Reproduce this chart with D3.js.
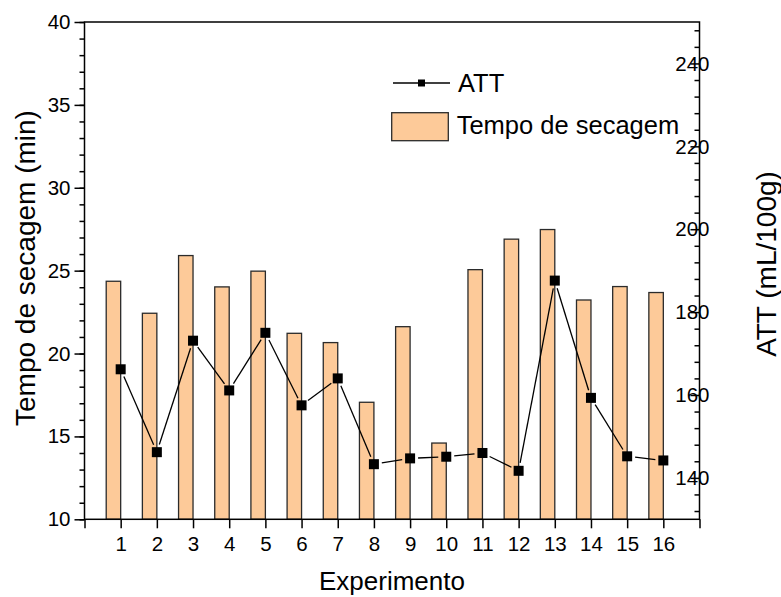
<!DOCTYPE html>
<html>
<head>
<meta charset="utf-8">
<script src="https://cdn.jsdelivr.net/npm/d3@7"></script>
<style>
  html, body { margin: 0; padding: 0; background: #fff; }
  svg { display: block; font-family: "Liberation Sans", Arial, sans-serif; }
</style>
</head>
<body>
<svg id="chart" width="781" height="597"></svg>
<script>
// ---- data ----
const experiments = [1,2,3,4,5,6,7,8,9,10,11,12,13,14,15,16];
const tempoSecagem = [24.36,22.43,25.91,24.02,24.97,21.22,20.66,17.06,21.62,14.6,25.06,26.9,27.48,23.23,24.04,23.68];
const att = [166.2,146.2,173.1,161.1,175.0,157.5,164.0,143.3,144.7,145.1,146.0,141.7,187.6,159.3,145.2,144.2];
const leftTicks = [10,15,20,25,30,35,40];
const rightTicks = [140,160,180,200,220,240];
const xLabel = "Experimento";
const yLeftLabel = "Tempo de secagem (min)";
const yRightLabel = "ATT (mL/100g)";
const legendLine = "ATT";
const legendBar = "Tempo de secagem";

// ---- layout ----
const L = 84.5, R = 699.5, T = 22, B = 519.3;
const barFill = "#FDCA99";
const FONT = "Liberation Sans, Arial, sans-serif";
const svg = d3.select("#chart");

const x = d3.scaleLinear().domain([0,17]).range([L,R]);
const yL = d3.scaleLinear().domain([10,40]).range([B,T]);
const yR = d3.scaleLinear().domain([130,250]).range([B,T]);

const tickFont = 20.5;

// bars
svg.append("g").selectAll("rect").data(experiments).join("rect")
  .attr("x", (d) => x(d - 0.4))
  .attr("y", (d,i) => yL(tempoSecagem[i]))
  .attr("width", (d) => x(d) - x(d - 0.4))
  .attr("height", (d,i) => B - yL(tempoSecagem[i]))
  .attr("fill", barFill)
  .attr("stroke", "#2b2b2b")
  .attr("stroke-width", 1.3);

// line segments with gaps near markers
const pts = experiments.map((d,i) => [x(d), yR(att[i])]);
const gap = 8;
const segs = [];
for (let i = 0; i < pts.length - 1; i++) {
  const [x1,y1] = pts[i], [x2,y2] = pts[i+1];
  const len = Math.hypot(x2-x1, y2-y1);
  const ux = (x2-x1)/len, uy = (y2-y1)/len;
  segs.push([x1+ux*gap, y1+uy*gap, x2-ux*gap, y2-uy*gap]);
}
svg.append("g").selectAll("line").data(segs).join("line")
  .attr("x1", d => d[0]).attr("y1", d => d[1])
  .attr("x2", d => d[2]).attr("y2", d => d[3])
  .attr("stroke", "#000").attr("stroke-width", 1.3);

const ms = 10;
svg.append("g").selectAll("rect").data(pts).join("rect")
  .attr("x", d => d[0] - ms/2).attr("y", d => d[1] - ms/2)
  .attr("width", ms).attr("height", ms).attr("fill", "#000");

// frame
svg.append("rect").attr("x", L).attr("y", T).attr("width", R-L).attr("height", B-T)
  .attr("fill", "none").attr("stroke", "#000").attr("stroke-width", 1.5);

// left axis
const gl = svg.append("g").attr("transform", `translate(${L},0)`);
gl.call(d3.axisLeft(yL).tickValues(d3.range(10,41,1)).tickSize(5).tickFormat(""))
  .call(g => g.select(".domain").remove());
gl.append("g").call(d3.axisLeft(yL).tickValues(leftTicks).tickSize(10).tickPadding(4))
  .call(g => g.select(".domain").remove());
gl.selectAll("line").attr("stroke", "#000").attr("stroke-width", 1.5);
gl.selectAll("g").attr("font-size", null).attr("font-family", null);
gl.attr("font-size", null).attr("font-family", null);
gl.selectAll("text").attr("font-size", tickFont).attr("font-family", FONT).attr("fill", "#000");

// right axis (ticks inward)
const gr = svg.append("g").attr("transform", `translate(${R},0)`);
gr.call(d3.axisLeft(yR).tickValues(d3.range(132,250,4).filter(v => !rightTicks.includes(v))).tickSize(5).tickFormat(""))
  .call(g => g.select(".domain").remove());
gr.append("g").call(d3.axisLeft(yR).tickValues(rightTicks).tickSize(9).tickFormat(""))
  .call(g => g.select(".domain").remove());
gr.selectAll("line").attr("stroke", "#000").attr("stroke-width", 1.5);
gr.append("g").selectAll("text").data(rightTicks).join("text")
  .attr("x", 10).attr("y", d => yR(d)).attr("dy", "0.35em")
  .attr("font-size", tickFont).attr("font-family", FONT).attr("fill", "#000").text(d => d);

// bottom axis
const gb = svg.append("g").attr("transform", `translate(0,${B})`);
gb.call(d3.axisBottom(x).tickValues(d3.range(0,18,1)).tickSize(9).tickPadding(8)
    .tickFormat(d => experiments.includes(d) ? d : ""))
  .call(g => g.select(".domain").remove());
gb.selectAll("line").attr("stroke", "#000").attr("stroke-width", 1.5);
gb.selectAll("text").attr("font-size", tickFont).attr("font-family", FONT).attr("fill", "#000");

// axis titles
svg.append("text").attr("x", (L+R)/2).attr("y", 590).attr("text-anchor", "middle")
  .attr("font-size", 26).attr("font-family", FONT).text(xLabel);
svg.append("text").attr("transform", `translate(35,268) rotate(-90)`).attr("text-anchor", "middle")
  .attr("font-size", 28).attr("font-family", FONT).text(yLeftLabel);
svg.append("text").attr("transform", `translate(776,264) rotate(-90)`).attr("text-anchor", "middle")
  .attr("font-size", 28).attr("font-family", FONT).text(yRightLabel);

// legend
const lg = svg.append("g");
lg.append("line").attr("x1", 393).attr("x2", 450).attr("y1", 83).attr("y2", 83)
  .attr("stroke", "#000").attr("stroke-width", 1.3);
lg.append("rect").attr("x", 421.5-3.5).attr("y", 83-3.5).attr("width", 7).attr("height", 7).attr("fill", "#000");
lg.append("text").attr("x", 458).attr("y", 92).attr("font-size", 25.5).attr("font-family", FONT).text(legendLine);
lg.append("rect").attr("x", 391.7).attr("y", 112.7).attr("width", 56.6).attr("height", 28)
  .attr("fill", barFill).attr("stroke", "#2b2b2b").attr("stroke-width", 1.3);
lg.append("text").attr("x", 456.7).attr("y", 134).attr("font-size", 25.5).attr("font-family", FONT).text(legendBar);
</script>
</body>
</html>
